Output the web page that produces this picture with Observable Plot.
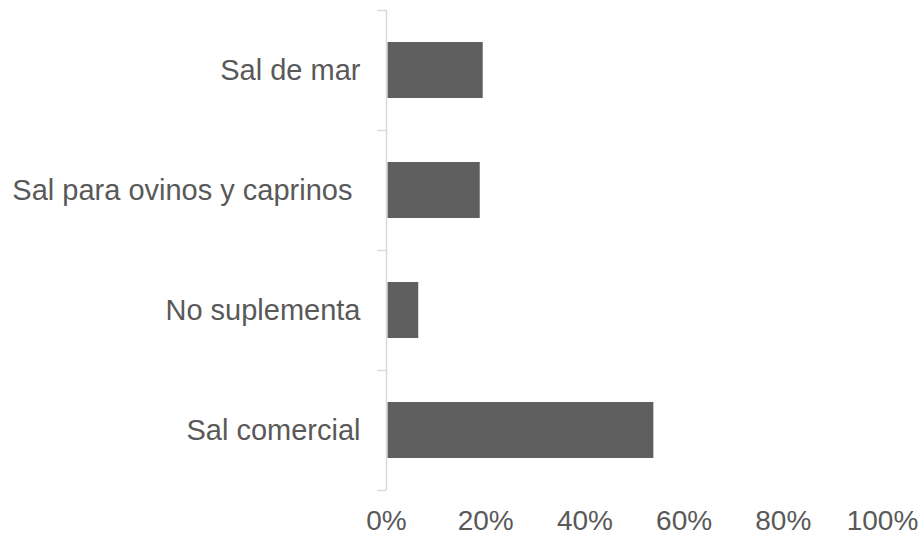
<!DOCTYPE html>
<html>
<head>
<meta charset="utf-8">
<script src="https://cdn.jsdelivr.net/npm/d3@7"></script>
<script src="https://cdn.jsdelivr.net/npm/@observablehq/plot@0.6"></script>
<style>
  html, body { margin: 0; padding: 0; background: #fff; }
</style>
</head>
<body>
<div id="chart"></div>
<script>
const categories = ["Sal de mar", "Sal para ovinos y caprinos\u00a0", "No suplementa", "Sal comercial"];
const values = [19.5, 18.9, 6.5, 53.9];
const xTicks = [0, 20, 40, 60, 80, 100];

const data = categories.map((c, i) => ({category: c, value: values[i]}));

const chart = Plot.plot({
  width: 924,
  height: 537,
  marginLeft: 386,
  marginRight: 42,
  marginTop: 10,
  marginBottom: 47,
  style: {fontFamily: "'Liberation Sans', Arial, sans-serif", color: "#595959", background: "#fff", overflow: "visible"},
  x: {domain: [0, 100]},
  y: {domain: categories, padding: 0},
  marks: [
    Plot.barX(data, {x: "value", y: "category", fill: "#5f5f5f", insetTop: 32, insetBottom: 32, insetLeft: 1.5}),
    Plot.ruleX([0], {stroke: "#d9d9d9", strokeWidth: 1.5}),
    Plot.axisY({tickFormat: () => "", tickSize: 9, dy: -60, stroke: "#d9d9d9", strokeWidth: 1.5, label: null}),
    Plot.axisY({ticks: [categories[categories.length - 1]], tickFormat: () => "", tickSize: 9, dy: 60, stroke: "#d9d9d9", strokeWidth: 1.5, label: null}),
    Plot.axisY({tickSize: 0, tickPadding: 26, fontSize: 29, fill: "#595959", label: null}),
    Plot.axisX({ticks: xTicks, tickFormat: d => d + "%", tickSize: 0, tickPadding: 20, fontSize: 28, fill: "#595959", label: null})
  ]
});
document.getElementById("chart").appendChild(chart);
</script>
</body>
</html>
